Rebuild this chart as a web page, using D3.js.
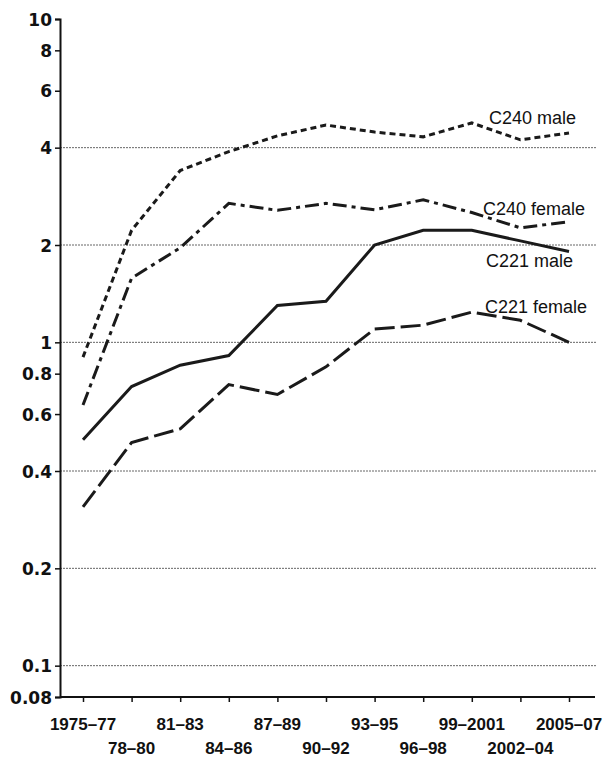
<!DOCTYPE html>
<html>
<head>
<meta charset="utf-8">
<script src="https://cdn.jsdelivr.net/npm/d3@7"></script>
<style>
  body { margin: 0; background: #fff; }
  svg { display: block; }
</style>
</head>
<body>
<svg id="chart"></svg>
<script>
// periods (x categories)
const periods = ["1975–77", "78–80", "81–83", "84–86", "87–89", "90–92",
                 "93–95", "96–98", "99–2001", "2002–04", "2005–07"];

// rates by series
const c240Male   = [0.90, 2.22, 3.40, 3.89, 4.35, 4.70, 4.47, 4.32, 4.77, 4.23, 4.44];
const c240Female = [0.64, 1.58, 1.96, 2.69, 2.56, 2.69, 2.57, 2.76, 2.52, 2.26, 2.36];
const c221Male   = [0.50, 0.73, 0.85, 0.91, 1.30, 1.34, 2.00, 2.22, 2.22, 2.06, 1.91];
const c221Female = [0.31, 0.49, 0.54, 0.74, 0.69, 0.84, 1.10, 1.13, 1.24, 1.17, 1.00];

const seriesNames = ["C240 male", "C240 female", "C221 male", "C221 female"];

const yTicks = [10, 8, 6, 4, 2, 1, 0.8, 0.6, 0.4, 0.2, 0.1, 0.08];
const gridTicks = [4, 2, 1, 0.4, 0.2, 0.1];

const width = 612, height = 758;

const svg = d3.select("#chart")
    .attr("width", width)
    .attr("height", height);

const x = d3.scalePoint()
    .domain(periods)
    .range([83, 569]);

const y = d3.scaleLog()
    .domain([0.08, 10])
    .range([697, 19]);

// grid lines
svg.append("g")
    .selectAll("line")
    .data(gridTicks)
    .join("line")
    .attr("x1", 60)
    .attr("x2", 597)
    .attr("y1", d => y(d))
    .attr("y2", d => y(d))
    .attr("stroke", "#666")
    .attr("stroke-width", 1)
    .attr("stroke-dasharray", "2,1");

// y axis
const yAxis = d3.axisLeft(y)
    .tickValues(yTicks)
    .tickFormat(d => d3.format("~g")(d))
    .tickSize(5)
    .tickPadding(3);

const gy = svg.append("g")
    .attr("transform", "translate(60,0)")
    .call(yAxis);
gy.select(".domain").attr("stroke", "#111").attr("stroke-width", 2);
gy.selectAll(".tick line").attr("stroke", "#111").attr("stroke-width", 1.5);
gy.selectAll(".tick text")
    .attr("fill", "#111")
    .style("font-family", "'DejaVu Sans', sans-serif")
    .style("font-weight", "bold")
    .style("font-size", "17px")
    .attr("dy", "0.36em");

// x axis line (runs to the right edge)
svg.append("line")
    .attr("x1", 60).attr("x2", 595)
    .attr("y1", 697).attr("y2", 697)
    .attr("stroke", "#111")
    .attr("stroke-width", 2);

const xAxis = d3.axisBottom(x)
    .tickSize(5)
    .tickFormat("");

const gx = svg.append("g")
    .attr("transform", "translate(0,697)")
    .call(xAxis);
gx.select(".domain").remove();
gx.selectAll(".tick line").attr("stroke", "#111").attr("stroke-width", 1.5);

// staggered period labels
svg.append("g")
    .selectAll("text")
    .data(periods)
    .join("text")
    .attr("x", d => x(d))
    .attr("y", (d, i) => i % 2 === 0 ? 730 : 754)
    .attr("text-anchor", "middle")
    .attr("fill", "#111")
    .style("font-family", "'Liberation Sans', Arial, sans-serif")
    .style("font-weight", "bold")
    .style("font-size", "17px")
    .text(d => d);

// lines
const line = d3.line()
    .x((d, i) => x(periods[i]))
    .y(d => y(d));

const series = [
    {name: seriesNames[0], values: c240Male,   dash: "6,4",         lx: 489, ly: 124},
    {name: seriesNames[1], values: c240Female, dash: "14,5,4,5",    lx: 483, ly: 215},
    {name: seriesNames[2], values: c221Male,   dash: null,          lx: 486, ly: 267},
    {name: seriesNames[3], values: c221Female, dash: "20,6",        lx: 485, ly: 313}
];

svg.append("g")
    .selectAll("path")
    .data(series)
    .join("path")
    .attr("d", d => line(d.values))
    .attr("fill", "none")
    .attr("stroke", "#1a1a1a")
    .attr("stroke-width", 3)
    .attr("stroke-dasharray", d => d.dash);

// series labels
svg.append("g")
    .selectAll("text")
    .data(series)
    .join("text")
    .attr("x", d => d.lx)
    .attr("y", d => d.ly)
    .attr("fill", "#111")
    .style("font-family", "'Liberation Sans', Arial, sans-serif")
    .style("font-size", "18px")
    .text(d => d.name);
</script>
</body>
</html>
